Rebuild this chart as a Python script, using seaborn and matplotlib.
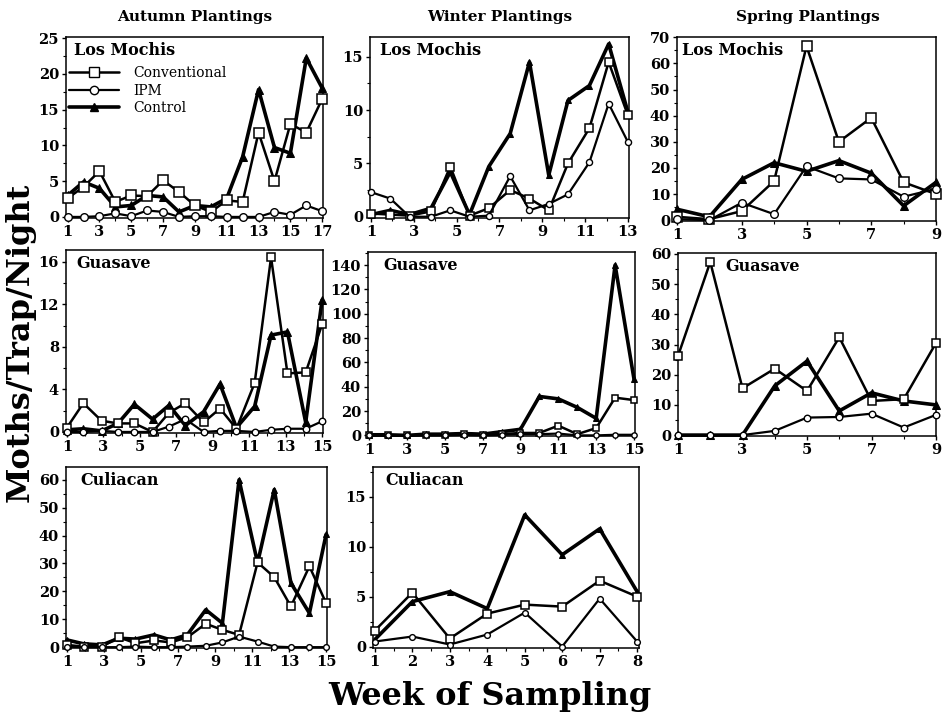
import matplotlib
matplotlib.use('Agg')
import matplotlib.pyplot as plt
from matplotlib.lines import Line2D
from matplotlib.ticker import MultipleLocator
import seaborn as sns

# Dados: semanas e mariposas/armadilha/noite por tratamento

# Outono - Los Mochis
al_weeks = [1, 2, 3, 4, 5, 6, 7, 8, 9, 10, 11, 12, 13, 14, 15, 16, 17]
al_conv = [2.6, 4.2, 6.4, 2.1, 3.0, 2.9, 5.1, 3.5, 1.6, 0.7, 2.3, 2.1, 11.8, 5.0, 13.0, 11.8, 16.5]
al_ipm = [0, 0, 0.1, 0.5, 0.1, 0.9, 0.7, 0, 0.1, 0.1, 0, 0, 0, 0.7, 0.3, 1.6, 0.8]
al_ctrl = [3.0, 4.9, 4.0, 1.4, 1.6, 3.0, 2.8, 0.7, 1.6, 1.4, 2.6, 8.4, 17.8, 9.7, 8.9, 22.2, 18.0]

# Inverno - Los Mochis
wl_weeks = [1, 1.9, 2.8, 3.8, 4.7, 5.6, 6.5, 7.5, 8.4, 9.3, 10.2, 11.2, 12.1, 13]
wl_conv = [0.3, 0.2, 0.1, 0.5, 4.7, 0.1, 0.8, 2.5, 1.7, 0.6, 5.0, 8.3, 14.5, 9.5]
wl_ipm = [2.3, 1.7, 0, 0, 0.6, 0, 0.1, 3.8, 0.6, 1.2, 2.1, 5.1, 10.6, 7.0]
wl_ctrl = [0.2, 0.6, 0.2, 0.8, 4.2, 0.2, 4.7, 7.8, 14.5, 3.9, 10.9, 12.3, 16.2, 9.8]

# Primavera - Los Mochis
sl_weeks = [1, 2, 3, 4, 5, 6, 7, 8, 9]
sl_conv = [1.3, 0.4, 3.5, 15, 66.6, 30, 39.2, 14.5, 10]
sl_ipm = [0.4, 0, 6.7, 2.3, 20.6, 16, 15.6, 9, 12]
sl_ctrl = [4.2, 1.3, 15.6, 22, 18.7, 22.8, 18, 5.5, 14.5]

# Outono - Guasave
ag_weeks = [1, 1.9, 2.9, 3.8, 4.7, 5.7, 6.6, 7.5, 8.5, 9.4, 10.3, 11.3, 12.2, 13.1, 14.1, 15]
ag_conv = [0.4, 2.7, 1.05, 0.8, 0.8, 0, 1.8, 2.7, 0.9, 2.2, 0.3, 4.6, 16.4, 5.5, 5.6, 10.1]
ag_ipm = [0, 0, 0.1, 0, 0, 0, 0.5, 1.2, 0, 0.1, 0.1, 0, 0.2, 0.3, 0.3, 1.0]
ag_ctrl = [0.2, 0.3, 0.1, 0.8, 2.6, 1.2, 2.5, 0.6, 1.9, 4.5, 0.4, 2.4, 9.1, 9.4, 0.9, 12.4]

# Inverno - Guasave
wg_weeks = [1, 2, 3, 4, 5, 6, 7, 8, 9, 10, 11, 12, 13, 14, 15]
wg_conv = [0, 0, 0, 0.5, 0.5, 1.5, 0.5, 1, 2, 2, 8, 1, 6, 31, 29]
wg_ipm = [0, 0, 0, 0, 0, 0.5, 0, 0.5, 1, 1, 1.5, 0, 0, 0.5, 0.5]
wg_ctrl = [0.5, 0.5, 0, 1, 1, 1.5, 1, 3, 5, 32, 30, 23, 14, 140, 46]

# Primavera - Guasave
sg_weeks = [1, 2, 3, 4, 5, 6, 7, 8, 9]
sg_conv = [26.2, 57.3, 15.5, 22, 14.6, 32.4, 11.3, 11.9, 30.5]
sg_ipm = [0, 0, 0, 1.4, 5.8, 6, 7.1, 2.5, 6.7]
sg_ctrl = [0, 0, 0, 16.3, 24.5, 8, 14, 11.3, 10]

# Outono - Culiacan
ac_weeks = [1, 1.9, 2.9, 3.8, 4.7, 5.7, 6.6, 7.5, 8.5, 9.4, 10.3, 11.3, 12.2, 13.1, 14.1, 15]
ac_conv = [0.8, 0.2, 0.2, 3.6, 1.4, 2.4, 1.7, 3.5, 8.4, 6.2, 4.4, 30.4, 25.1, 14.6, 29, 15.8]
ac_ipm = [0.2, 0, 0, 0, 0.2, 0, 0, 0.2, 0.5, 1.7, 3.8, 2, 0.2, 0, 0, 0]
ac_ctrl = [2.6, 1.2, 0.8, 3.2, 2.9, 4.4, 2.6, 4.4, 13.4, 8.6, 60, 30.2, 56.5, 23, 12.2, 40.4]

# Inverno - Culiacan
wc_weeks = [1, 2, 3, 4, 5, 6, 7, 8]
wc_conv = [1.6, 5.4, 0.8, 3.3, 4.2, 4.0, 6.6, 5.0]
wc_ipm = [0.5, 1.0, 0.2, 1.2, 3.4, 0, 4.8, 0.5]
wc_ctrl = [0.7, 4.5, 5.5, 3.8, 13.2, 9.2, 11.8, 5.5]

sns.set_style('ticks')
plt.rcParams['font.family'] = ['DejaVu Serif']
plt.rcParams['text.color'] = 'black'
plt.rcParams['xtick.color'] = 'black'
plt.rcParams['ytick.color'] = 'black'

fig = plt.figure(figsize=(9.44, 7.15), dpi=100)
W, H = 944, 715


def painel(l, t, r, b):
    # cria eixos a partir da posição em pixels
    return fig.add_axes([l / W, 1 - b / H, (r - l) / W, (b - t) / H])


def desenha(ax, weeks, conv, ipm, ctrl, nome, xlim, ylim, ystep, xticks, nx=0.04, esc=1.0):
    sns.lineplot(x=weeks, y=ctrl, ax=ax, color='black', linewidth=2.6, marker='^',
                 markersize=6 * esc, markerfacecolor='black', markeredgecolor='black',
                 zorder=3, clip_on=False)
    sns.lineplot(x=weeks, y=conv, ax=ax, color='black', linewidth=1.8, marker='s',
                 markersize=7 * esc, markerfacecolor='white', markeredgecolor='black',
                 markeredgewidth=1.1, zorder=4, clip_on=False)
    sns.lineplot(x=weeks, y=ipm, ax=ax, color='black', linewidth=1.6, marker='o',
                 markersize=5.5 * esc, markerfacecolor='white', markeredgecolor='black',
                 markeredgewidth=1.0, zorder=5, clip_on=False)
    ax.set_xlim(*xlim)
    ax.set_ylim(*ylim)
    ax.set_xticks(xticks)
    ax.xaxis.set_minor_locator(MultipleLocator(1))
    ax.yaxis.set_major_locator(MultipleLocator(ystep))
    ax.yaxis.set_minor_locator(MultipleLocator(ystep / 2))
    ax.tick_params(which='major', direction='out', length=3, width=1, labelsize=10.5, pad=2)
    ax.tick_params(which='minor', direction='out', length=2, width=0.8)
    for lab in ax.get_xticklabels() + ax.get_yticklabels():
        lab.set_fontweight('bold')
    for s in ax.spines.values():
        s.set_linewidth(1.1)
        s.set_color('black')
    ax.set_xlabel('')
    ax.set_ylabel('')
    ax.text(nx, 0.925, nome, transform=ax.transAxes, fontsize=11.5,
            fontweight='bold', va='center', ha='left')


odd = lambda n: list(range(1, n + 1, 2))

ax1 = painel(66, 37, 323, 218)
desenha(ax1, al_weeks, al_conv, al_ipm, al_ctrl, 'Los Mochis', (0.9, 17.05), (-0.15, 25.15), 5, odd(17), 0.03)
ax2 = painel(370, 37, 629, 218)
desenha(ax2, wl_weeks, wl_conv, wl_ipm, wl_ctrl, 'Los Mochis', (0.95, 13.05), (-0.12, 16.85), 5, odd(13), 0.04, 0.8)
ax3 = painel(677, 37, 936, 221)
desenha(ax3, sl_weeks, sl_conv, sl_ipm, sl_ctrl, 'Los Mochis', (1, 9), (-0.3, 70.1), 10, odd(9), 0.02)
ax4 = painel(66, 250, 323, 433)
desenha(ax4, ag_weeks, ag_conv, ag_ipm, ag_ctrl, 'Guasave', (0.95, 15.05), (-0.1, 17.1), 4, odd(15), 0.04, 0.85)
ax5 = painel(368, 252, 635, 436)
desenha(ax5, wg_weeks, wg_conv, wg_ipm, wg_ctrl, 'Guasave', (0.95, 15.05), (-0.5, 150.7), 20, odd(15), 0.056, 0.7)
ax6 = painel(678, 253, 936, 436)
desenha(ax6, sg_weeks, sg_conv, sg_ipm, sg_ctrl, 'Guasave', (1, 9), (-0.3, 60.3), 10, odd(9), 0.185, 0.85)
ax7 = painel(66, 467, 327, 648)
desenha(ax7, ac_weeks, ac_conv, ac_ipm, ac_ctrl, 'Culiacan', (0.95, 15.05), (-0.3, 64.6), 10, odd(15), 0.054, 0.75)
ax8 = painel(373, 467, 639, 648)
desenha(ax8, wc_weeks, wc_conv, wc_ipm, wc_ctrl, 'Culiacan', (0.95, 8.05), (-0.15, 18), 5, list(range(1, 9)), 0.045, 0.75)
ax8.xaxis.set_minor_locator(MultipleLocator(0.5))

# Legenda no primeiro painel
handles = [
    Line2D([], [], color='black', lw=1.8, marker='s', ms=7, mfc='white', mec='black'),
    Line2D([], [], color='black', lw=1.6, marker='o', ms=6, mfc='white', mec='black'),
    Line2D([], [], color='black', lw=2.6, marker='^', ms=6, mfc='black', mec='black'),
]
ax1.legend(handles, ['Conventional', 'IPM', 'Control'], loc='upper left',
           bbox_to_anchor=(-0.01, 0.87), frameon=False, fontsize=10,
           handlelength=3.6, handletextpad=1.0, labelspacing=0.25, borderaxespad=0)

# Títulos das colunas e rótulos dos eixos
fig.text(195 / W, 1 - 17 / H, 'Autumn Plantings', ha='center', va='center', fontsize=11, fontweight='bold')
fig.text(500 / W, 1 - 17 / H, 'Winter Plantings', ha='center', va='center', fontsize=11, fontweight='bold')
fig.text(808 / W, 1 - 17 / H, 'Spring Plantings', ha='center', va='center', fontsize=11, fontweight='bold')
fig.text(20 / W, 1 - 342 / H, 'Moths/Trap/Night', ha='center', va='center', rotation=90,
         fontsize=23, fontweight='bold')
fig.text(490 / W, 1 - 697 / H, 'Week of Sampling', ha='center', va='center', fontsize=23, fontweight='bold')

fig.savefig('out.png', dpi=100)
